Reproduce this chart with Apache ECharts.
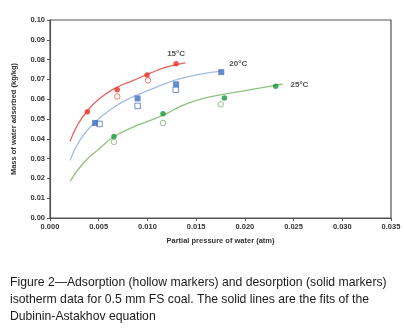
<!DOCTYPE html>
<html lang="en">
  <head>
    <meta charset="UTF-8" />
    <title>Water isotherms</title>
    <style>
      html, body { margin: 0; padding: 0; background: #fff; }
      #main { width: 404px; height: 330px; }
    </style>
  </head>
  <body>
    <div id="main"></div>
    <script src="https://cdn.jsdelivr.net/npm/echarts@6/dist/echarts.min.js"></script>
    <script>
      // desorption = solid markers, adsorption = hollow markers, fit = D-A line
      const des15 = [[0.00384, 0.0537], [0.0069, 0.0648], [0.00996, 0.0722], [0.01294, 0.0779]];
      const ads15 = [[0.0069, 0.0614], [0.01006, 0.0695]];
      const fit15 = [[0.00206, 0.0387], [0.00275, 0.0463], [0.00378, 0.0538], [0.00515, 0.0606],
        [0.00687, 0.066], [0.00858, 0.0695], [0.0103, 0.0732], [0.012, 0.0763], [0.0139, 0.0784]];

      const des20 = [[0.00463, 0.048], [0.00899, 0.0604], [0.01294, 0.0675], [0.01758, 0.0737]];
      const ads20 = [[0.00508, 0.0475], [0.009, 0.0566], [0.0129, 0.0648]];
      const fit20 = [[0.00206, 0.0291], [0.00309, 0.0395], [0.00446, 0.0476], [0.00618, 0.0547],
        [0.00824, 0.0606], [0.0103, 0.0648], [0.01218, 0.0685], [0.01339, 0.0704],
        [0.01545, 0.0727], [0.0176, 0.0742]];

      const des25 = [[0.00656, 0.0412], [0.0116, 0.0527], [0.0179, 0.0606], [0.02317, 0.0665]];
      const ads25 = [[0.00656, 0.0384], [0.0116, 0.048], [0.01754, 0.0574]];
      const fit25 = [[0.00206, 0.0185], [0.00343, 0.0278], [0.00515, 0.0354], [0.00652, 0.0409],
        [0.00858, 0.046], [0.0103, 0.0493], [0.012, 0.0528], [0.01339, 0.0564], [0.01545, 0.06],
        [0.0175, 0.0622], [0.01957, 0.064], [0.02163, 0.0657], [0.0235, 0.0673], [0.0239, 0.0677]];

      const tempLabels = ["15°C", "20°C", "25°C"];

      const font = "'Liberation Sans', Arial, sans-serif";
      const chart = echarts.init(document.getElementById("main"));

      const sets = [
        { fit: fit15, des: des15, ads: ads15, line: "#e9625c", solid: "#e5322c", hollow: "#e0604f", sym: "circle", lab: { position: "top", distance: 3 } },
        { fit: fit20, des: des20, ads: ads20, line: "#a3bbe4", solid: "#3f6fc6", hollow: "#4d76c6", sym: "rect", lab: { position: "right", distance: 5, offset: [0, -8] } },
        { fit: fit25, des: des25, ads: ads25, line: "#8fc27f", solid: "#17983a", hollow: "#86ad7c", sym: "circle", lab: { position: "right", distance: 12, offset: [0, -2] } },
      ];

      const series = [];
      sets.forEach((s, i) => {
        series.push({
          type: "line", data: s.fit, smooth: true, showSymbol: false, silent: true,
          lineStyle: { color: s.line, width: 1.3 }, z: 2,
        });
        series.push({
          type: "scatter", data: s.ads, symbol: s.sym, symbolSize: 5.5,
          itemStyle: { color: "#fff", borderColor: s.hollow, borderWidth: 1 }, z: 3,
        });
        const last = s.des.length - 1;
        series.push({
          type: "scatter", symbol: s.sym, symbolSize: s.sym === "rect" ? 6 : 5.5,
          itemStyle: { color: s.solid }, z: 4,
          data: s.des.map((p, j) => j === last
            ? { value: p, label: Object.assign({ show: true, formatter: tempLabels[i], color: "#222", fontWeight: "bold", fontSize: 8, fontFamily: font }, s.lab) }
            : p),
        });
      });

      chart.setOption({
        animation: false,
        grid: { left: 50, right: 13, top: 20, bottom: 112 },
        xAxis: {
          type: "value", min: 0, max: 0.035, interval: 0.005,
          name: "Partial pressure of water (atm)", nameLocation: "middle", nameGap: 19,
          nameTextStyle: { fontSize: 7.5, fontWeight: "bold", color: "#333", fontFamily: font },
          axisLine: { lineStyle: { color: "#555", width: 1.2 } },
          axisTick: { show: true, length: 3, lineStyle: { color: "#555" } },
          axisLabel: { formatter: (v) => v.toFixed(3), fontSize: 7.5, fontWeight: "bold", color: "#333", fontFamily: font, margin: 5 },
          splitLine: { show: false },
        },
        yAxis: {
          type: "value", min: 0, max: 0.1, interval: 0.01,
          name: "Mass of water adsorbed (kg/kg)", nameLocation: "middle", nameGap: 32,
          nameTextStyle: { fontSize: 7.5, fontWeight: "bold", color: "#333", fontFamily: font },
          axisLine: { show: true, lineStyle: { color: "#555", width: 1.2 } },
          axisTick: { show: true, length: 3, lineStyle: { color: "#555" } },
          axisLabel: { formatter: (v) => v.toFixed(2), fontSize: 7.5, fontWeight: "bold", color: "#333", fontFamily: font, margin: 5 },
          splitLine: { show: false },
        },
        graphic: [
          {
            type: "rect", shape: { x: 50, y: 20, width: 341, height: 198 }, silent: true, z: 0,
            style: { fill: "none", stroke: "#555", lineWidth: 1.2 },
          },
          {
            type: "text", left: 10, top: 274,
            style: {
              text: "Figure 2\u2014Adsorption (hollow markers) and desorption (solid markers)\nisotherm data for 0.5 mm FS coal. The solid lines are the fits of the\nDubinin-Astakhov equation",
              font: "12.2px " + font, fill: "#1a1a1a", lineHeight: 17,
            },
          },
        ],
        series: series,
      });
    </script>
  </body>
</html>
